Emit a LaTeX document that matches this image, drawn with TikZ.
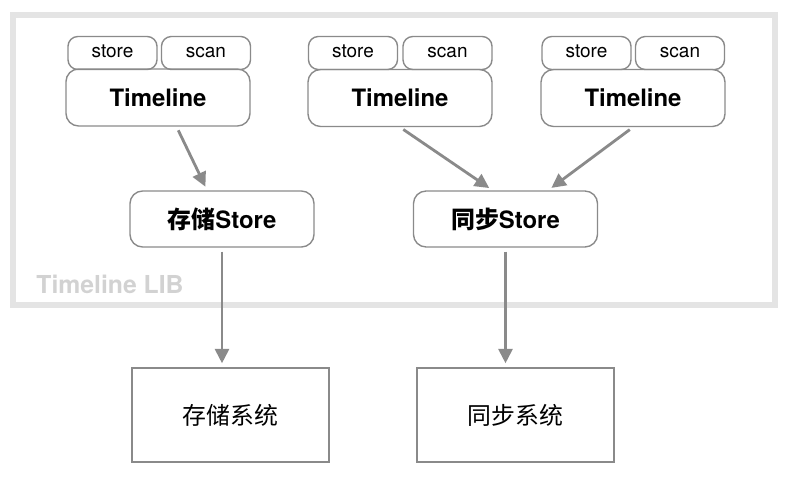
\documentclass[tikz,border=0pt]{standalone}
\usepackage{fontspec}
\setmainfont{TeX Gyre Heros}
\newfontfamily\cjk{Noto Sans CJK SC}
\usetikzlibrary{arrows.meta,calc}

\definecolor{boxgray}{HTML}{8A8A8A}
\definecolor{libgray}{HTML}{E4E4E4}
\definecolor{libtext}{HTML}{D2D2D2}

\tikzset{
  tab/.style={draw=boxgray, line width=1pt, rounded corners=7pt, minimum width=2.225cm, minimum height=0.825cm, inner sep=0pt, text height=1.45ex, text depth=0.1ex, font=\fontsize{13.5}{14}\selectfont},
  timeline/.style={draw=boxgray, line width=1pt, rounded corners=9pt, minimum width=4.6cm, minimum height=1.425cm, inner sep=0pt, font=\fontsize{17}{18}\selectfont\bfseries},
  sys/.style={draw=boxgray, line width=1pt, minimum width=4.925cm, minimum height=2.35cm, inner sep=0pt, font=\fontsize{17}{18}\selectfont\cjk},
  flow/.style={draw=boxgray, line width=2pt, -{Triangle[length=0.36cm,width=0.35cm]}, shorten <=1mm, shorten >=1mm}
}

\begin{document}
\begin{tikzpicture}[x=0.025cm, y=-0.025cm]
              \useasboundingbox (0,0) rectangle (787,480);

              % Timeline LIB frame
              \draw[libgray, line width=0.15cm] (13,15) rectangle (775,305);
              \node[text=libtext, font=\fontsize{17.6}{20}\selectfont\bfseries] (lib) at (110,284) {Timeline LIB};

              \node[tab] (storeA) at (112.5,53) {store};
              \node[tab] (scanA) at (206,53) {scan};
              \node[timeline] (tlA) at (158,97.5) {Timeline};

              \node[tab] (storeB) at (353,53) {store};
              \node[tab] (scanB) at (447.5,53) {scan};
              \node[timeline] (tlB) at (400,98) {Timeline};

              \node[tab] (storeC) at (586.5,53) {store};
              \node[tab] (scanC) at (680,53) {scan};
              \node[timeline] (tlC) at (633,98) {Timeline};

              \node[timeline, minimum height=1.4cm] (cunchu) at (222,219) {{\cjk\bfseries 存储}Store};
              \node[timeline, minimum height=1.4cm] (tongbu) at (505.5,219) {{\cjk\bfseries 同步}Store};

              \node[sys] (cunchuSys) at (230.5,415) {存储系统};
              \node[sys] (tongbuSys) at (515.5,415) {同步系统};

              \draw[flow] ($(tlA.south west)!0.6!(tlA.south east)$) -- ($(cunchu.north west)!0.42!(cunchu.north east)$);
              \draw[flow] (tlB.south) -- ($(tongbu.north west)!0.43!(tongbu.north east)$);
              \draw[flow] (tlC.south) -- ($(tongbu.north west)!0.73!(tongbu.north east)$);
              \draw[flow] (cunchu.south) -- (cunchu.south |- cunchuSys.north);
              \draw[flow] (tongbu.south) -- (tongbu.south |- tongbuSys.north);
            \end{tikzpicture}
\end{document}
